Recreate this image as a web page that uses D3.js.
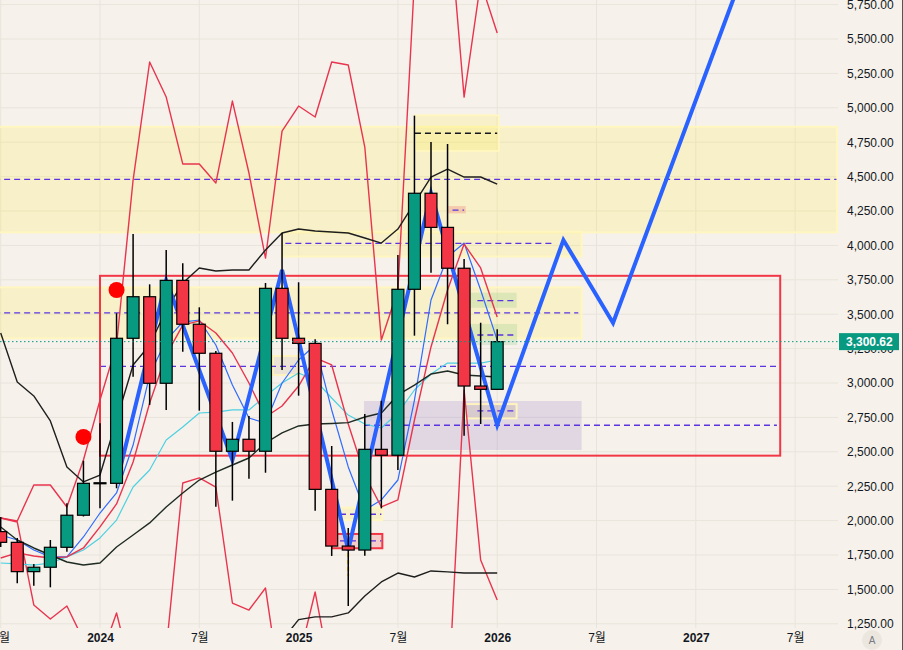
<!DOCTYPE html>
<html>
<head>
<meta charset="utf-8">
<script src="https://cdn.jsdelivr.net/npm/d3@7"></script>
<style>
  body { margin: 0; background: #f6f2eb; }
  svg { display: block; }
</style>
</head>
<body>
<div id="chart"></div>
<script>
// monthly candles, 2023-07 .. 2026-01 (month index 0 = 2024-01)
var months = ["2023-07","2023-08","2023-09","2023-10","2023-11","2023-12",
  "2024-01","2024-02","2024-03","2024-04","2024-05","2024-06","2024-07","2024-08","2024-09","2024-10","2024-11","2024-12",
  "2025-01","2025-02","2025-03","2025-04","2025-05","2025-06","2025-07","2025-08","2025-09","2025-10","2025-11","2025-12",
  "2026-01"];
var firstMonth = -6;

var opens  = [1920,1842,1629,1661,1806,2039,2271,2271,3325,3627,2998,3746,3427,3216,2504,2591,2504,3688,3325,3288,2227,1815,1786,2518,2475,3681,4379,4131,3834,2978,2954];
var highs  = [2026,1874,1685,1859,2126,2435,2707,3507,4083,3717,3967,3870,3550,3233,2717,2760,3727,4090,3732,3318,2542,1946,2775,2871,3930,4943,4751,4737,3901,3438,3390];
var lows   = [1808,1544,1527,1515,1774,2030,2090,2235,3046,2840,2804,3227,2799,2101,2145,2305,2348,3094,2908,2072,1743,1379,1745,2089,2368,3344,3802,3427,2617,2702,2954];
var closes = [1842,1629,1661,1806,2039,2271,2275,3325,3627,2998,3746,3427,3216,2504,2591,2504,3688,3325,3288,2227,1815,1786,2518,2475,3681,4379,4131,3834,2978,2954,3300.62];

// bollinger bands (black)
var bbUpper = [3363,3007,2906,2724,2390,2281,2331,2731,3131,3276,3530,3727,3836,3814,3821,3821,3967,4090,4119,4105,4097,4090,4054,4017,4119,4308,4497,4555,4497,4497,4446];
var bbMid   = [1954,1859,1801,1750,1699,1677,1692,1808,1895,1983,2099,2201,2295,2353,2404,2455,2564,2637,2688,2702,2706,2712,2753,2782,2913,2985,3065,3087,3058,3051,3044];
var bbLower = [null,null,null,null,null,null,null,null,null,null,null,null,null,null,null,null,1000,1130,1280,1300,1300,1329,1452,1554,1619,1590,1634,1627,1619,1619,1619];

// red envelope (upper / lower)
var envUpper = [2019,1997,2259,2259,2099,2440,2876,3276,4475,5333,5078,4592,4592,4453,5049,4526,3908,4831,5013,4933,5333,5311,4715,3312,3676,5929,6219,6510,5078,5914,5543];
var envLower = [2019,1990,1387,1285,1379,1132,987,1329,842,696,1060,2273,2310,2244,1401,1350,1510,696,987,1481,842,696,551,551,551,551,551,602,2949,1714,1423];

// moving averages
var maRed  = [1728,1765,1743,1728,1736,1801,1954,2121,2426,2855,3203,3421,3451,3363,3218,3000,2753,2833,2978,3182,3131,2702,2331,2099,2150,2731,3262,3676,4010,3836,3480];
var maBlue = [1895,1859,1786,1736,1736,1881,2055,2201,2549,3058,3312,3443,3458,3276,2985,2746,2709,3000,3167,3276,2804,2390,2077,2150,2295,2876,3603,3916,4017,3676,3312];
var maCyan = [1692,1685,1677,1692,1736,1786,1874,2004,2244,2368,2586,2680,2782,2789,2804,2804,2906,3000,3073,3022,2891,2767,2702,2673,2782,2949,3065,3145,3145,3145,3167];

// zigzag + projection (month index, price)
var zigzagMonths = [1,4,8,11,15,20,24,28,31,40];
var zigzagValues = [2271,3746,2440,3822,1786,4379,2695,4039,3436,6350];

// zones: [from month, to month, top price, bottom price, kind]
var zones = [
  [-7, 44.53, 4862, 4095, "yellow"],
  [-7, 29.1, 3695, 3325, "yellow"],
  [11.0, 29.1, 4100, 3919, "yellow"],
  [19.03, 24.09, 4945, 4686, "yellow"],
  [15.95, 29.1, 2869, 2513, "purple"],
  [22.36, 25.17, 3656, 3547, "green"],
  [22.36, 25.2, 3429, 3276, "green"],
  [22.05, 25.17, 2847, 2743, "tan"],
  [10.45, 11.96, 3196, 3058, "tan"],
  [21.03, 22.1, 4286, 4233, "pink"],
  [14.02, 17.06, 1903, 1799, "pinkBox"],
  [14.02, 17.06, 2094, 2004, "yellow"]
];
// dashed levels: [price, from month, to month, colour]
var levels = [
  [4480, -7, 44.5, "purple"],
  [3509, -7, 28.9, "purple"],
  [4015, 11.2, 27.5, "purple"],
  [3121, 0, 40.9, "purple"],
  [2693, 15.95, 40.9, "purple"],
  [4815, 19.03, 24.0, "black"],
  [3598, 22.8, 25.0, "purple"],
  [3349, 22.8, 25.0, "purple"],
  [2797, 22.8, 25.0, "purple"],
  [4257, 21.3, 22.0, "purple"],
  [1852, 14.5, 17.0, "purple"],
  [2046, 14.5, 17.0, "purple"]
];
var box = [0, 41.1, 3779, 2472];
var dotMonths = [1, -1];
var dotValues = [3676, 2608];

var timeTicks = [-6, 0, 6, 12, 18, 24, 30, 36, 42];
var timeLabels = ["7월", "2024", "7월", "2025", "7월", "2026", "7월", "2027", "7월"];
var priceTicks = d3.range(1250, 5751, 250);
var lastPrice = 3300.62;

// chart sizes
var width = 903, height = 650;
var plotW = 838, plotH = 628;

var x = d3.scaleLinear().domain([0, 24]).range([100, 497.2]);
var y = d3.scaleLinear().domain([3000, 5750]).range([383, 4.6]);
var step = x(1) - x(0);

var zoneFill = {
  yellow: "rgba(255,235,59,0.2)", purple: "rgba(103,58,183,0.15)", green: "rgba(76,175,80,0.15)",
  tan: "rgba(160,120,60,0.12)", pink: "rgba(242,54,69,0.2)", pinkBox: "rgba(242,54,69,0.2)"
};
var zoneStroke = {
  yellow: "#fff6c0", purple: "none", green: "none", tan: "#fff3bf", pink: "none", pinkBox: "#f23645"
};

var svg = d3.select("#chart").append("svg")
    .attr("width", width)
    .attr("height", height)
    .style("background", "#f6f2eb");

svg.append("clipPath").attr("id", "plot")
    .append("rect").attr("width", plotW).attr("height", plotH);

var g = svg.append("g").attr("clip-path", "url(#plot)");

// grid
g.selectAll(".vgrid").data(timeTicks).enter().append("line")
    .attr("x1", d => x(d)).attr("x2", d => x(d))
    .attr("y1", 0).attr("y2", plotH)
    .attr("stroke", "#e8e4dc").attr("stroke-width", 1);
g.selectAll(".hgrid").data(priceTicks).enter().append("line")
    .attr("x1", 0).attr("x2", plotW)
    .attr("y1", d => y(d)).attr("y2", d => y(d))
    .attr("stroke", "#e8e4dc").attr("stroke-width", 1);

// zones
g.selectAll(".zone").data(zones).enter().append("rect")
    .attr("x", d => x(d[0]))
    .attr("width", d => x(d[1]) - x(d[0]))
    .attr("y", d => y(d[2]))
    .attr("height", d => y(d[3]) - y(d[2]))
    .attr("fill", d => zoneFill[d[4]])
    .attr("stroke", d => zoneStroke[d[4]])
    .attr("stroke-width", 2);

// dashed levels
g.selectAll(".level").data(levels).enter().append("line")
    .attr("x1", d => x(d[1])).attr("x2", d => x(d[2]))
    .attr("y1", d => y(d[0])).attr("y2", d => y(d[0]))
    .attr("stroke", d => d[3] == "purple" ? "#5b34e0" : "#131722")
    .attr("stroke-width", 1.3)
    .attr("stroke-dasharray", "6,4");

// red box
g.append("rect")
    .attr("x", x(box[0])).attr("width", x(box[1]) - x(box[0]))
    .attr("y", y(box[2])).attr("height", y(box[3]) - y(box[2]))
    .attr("fill", "none").attr("stroke", "#f23645").attr("stroke-width", 2);

// indicator lines
var line = d3.line()
    .defined(d => d != null)
    .x((d, i) => x(i + firstMonth))
    .y(d => y(d));

function drawLine(values, color, w) {
    g.append("path")
        .datum(values)
        .attr("d", line)
        .attr("fill", "none")
        .attr("stroke", color)
        .attr("stroke-width", w)
        .attr("stroke-linejoin", "round");
}
drawLine(envUpper, "#e8344e", 1.4);
drawLine(envLower, "#e8344e", 1.4);
drawLine(maCyan, "#4dd0e1", 1.2);
drawLine(maBlue, "#2f6bff", 1.2);
drawLine(maRed, "#e8344e", 1.4);
drawLine(bbUpper, "#1e1e1e", 1.4);
drawLine(bbMid, "#1e2a22", 1.4);
drawLine(bbLower, "#1e1e1e", 1.4);

// zigzag
g.append("path")
    .datum(zigzagMonths.map((m, i) => [m, zigzagValues[i]]))
    .attr("d", d3.line().x(d => x(d[0])).y(d => y(d[1])))
    .attr("fill", "none")
    .attr("stroke", "#2962ff")
    .attr("stroke-width", 4)
    .attr("stroke-linejoin", "miter");

// small yellow marker under the low
g.append("line")
    .attr("x1", x(15)).attr("x2", x(15))
    .attr("y1", y(1765)).attr("y2", y(1600))
    .attr("stroke", "#f5d020").attr("stroke-width", 2)
    .attr("stroke-dasharray", "4,3");

// candles
var candles = months.map((m, i) => ({
    m: i + firstMonth, o: opens[i], h: highs[i], l: lows[i], c: closes[i]
}));
var cw = step * 0.72;

var cg = g.selectAll(".candle").data(candles).enter().append("g");
cg.append("line")
    .attr("x1", d => x(d.m)).attr("x2", d => x(d.m))
    .attr("y1", d => y(d.h)).attr("y2", d => y(d.l))
    .attr("stroke", "#000").attr("stroke-width", 1.5);
cg.append("rect")
    .attr("x", d => x(d.m) - cw / 2)
    .attr("width", cw)
    .attr("y", d => y(Math.max(d.o, d.c)))
    .attr("height", d => Math.max(1, Math.abs(y(d.o) - y(d.c))))
    .attr("fill", d => d.c >= d.o ? "#089981" : "#f23645")
    .attr("stroke", "#000").attr("stroke-width", 1.2);

// last price line
g.append("line")
    .attr("x1", 0).attr("x2", plotW)
    .attr("y1", y(lastPrice)).attr("y2", y(lastPrice))
    .attr("stroke", "#089981").attr("stroke-width", 1)
    .attr("stroke-dasharray", "1.5,2.5");

// signal dots
g.selectAll(".dot").data(dotMonths).enter().append("circle")
    .attr("cx", d => x(d))
    .attr("cy", (d, i) => y(dotValues[i]))
    .attr("r", 8)
    .attr("fill", "#ff0000");

// price axis
var yAxis = svg.append("g")
    .attr("transform", "translate(" + plotW + ",0)")
    .call(d3.axisRight(y).tickValues(priceTicks).tickFormat(d3.format(",.2f")).tickSize(0).tickPadding(9));
yAxis.select(".domain").remove();
yAxis.selectAll("text")
    .attr("fill", "#131722")
    .style("font-family", "'Liberation Sans', Arial, sans-serif")
    .style("font-size", "12px");

// last price label
svg.append("rect")
    .attr("x", plotW + 1).attr("y", y(lastPrice) - 8.5)
    .attr("width", 60).attr("height", 17)
    .attr("fill", "#089981");
svg.append("text")
    .attr("x", plotW + 8).attr("y", y(lastPrice))
    .attr("dy", "0.35em")
    .attr("fill", "#fff")
    .style("font-family", "'Liberation Sans', Arial, sans-serif")
    .style("font-size", "12px")
    .style("font-weight", "bold")
    .text(d3.format(",.2f")(lastPrice));

// time axis
var xAxis = svg.append("g")
    .attr("transform", "translate(0," + plotH + ")")
    .call(d3.axisBottom(x).tickValues(timeTicks).tickFormat((d, i) => timeLabels[i]).tickSize(0).tickPadding(5));
xAxis.select(".domain").remove();
xAxis.selectAll("text")
    .attr("fill", "#131722")
    .style("font-family", "'Liberation Sans', 'Noto Sans CJK KR', sans-serif")
    .style("font-size", "12px")
    .style("font-weight", (d, i) => timeLabels[i].indexOf("월") < 0 ? "bold" : "normal");

// auto scale button
svg.append("circle")
    .attr("cx", 872).attr("cy", 640).attr("r", 10)
    .attr("fill", "#ebe6de");
svg.append("text")
    .attr("x", 872).attr("y", 640).attr("dy", "0.35em")
    .attr("text-anchor", "middle")
    .attr("fill", "#787b86")
    .style("font-family", "'Liberation Sans', Arial, sans-serif")
    .style("font-size", "10px")
    .text("A");

// right border
svg.append("line")
    .attr("x1", 902.5).attr("x2", 902.5).attr("y1", 0).attr("y2", height)
    .attr("stroke", "#555").attr("stroke-width", 1);
</script>
</body>
</html>
